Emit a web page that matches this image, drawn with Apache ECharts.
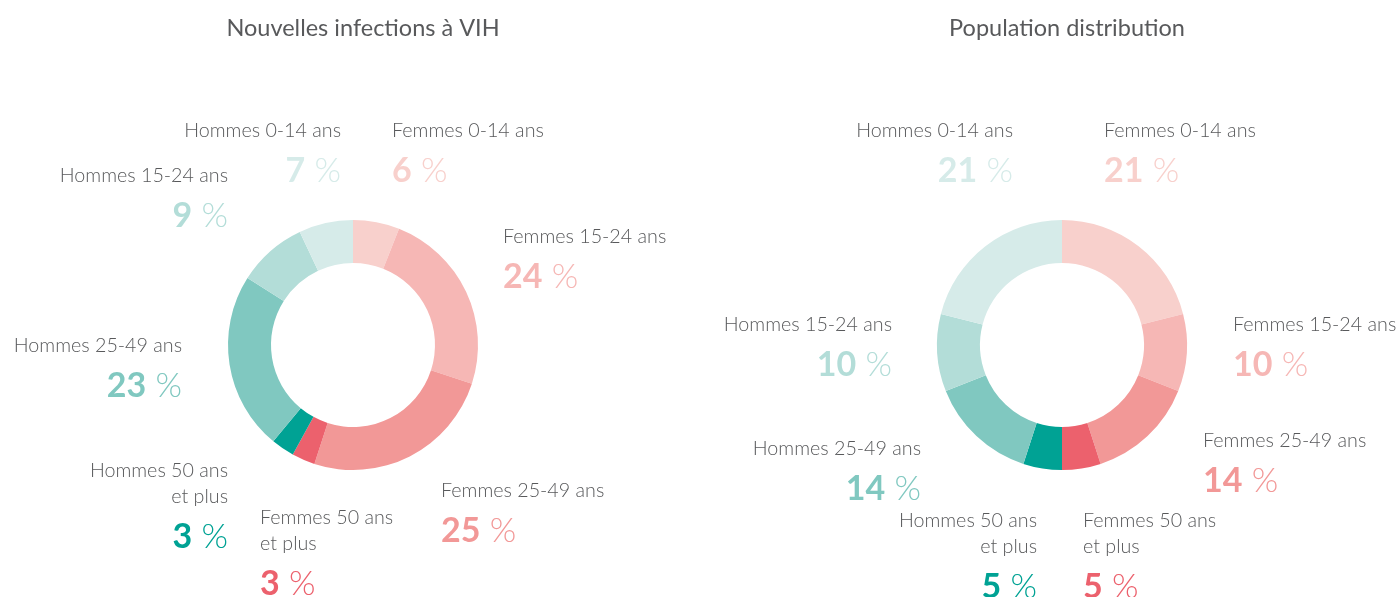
<html>
<head>
<meta charset="utf-8">
<title>Nouvelles infections à VIH</title>
<script src="https://cdn.jsdelivr.net/npm/echarts@6/dist/echarts.min.js"></script>
<style>
  body { margin: 0; background: #fff; }
  #main { width: 1400px; height: 597px; }
</style>
</head>
<body>
<div id="main"></div>
<script>
// categories, clockwise from top
var categories = ['Femmes 0-14 ans', 'Femmes 15-24 ans', 'Femmes 25-49 ans', 'Femmes 50 ans\net plus',
                  'Hommes 50 ans\net plus', 'Hommes 25-49 ans', 'Hommes 15-24 ans', 'Hommes 0-14 ans'];
var infections = [6, 24, 25, 3, 3, 23, 9, 7];
var population = [21, 10, 14, 5, 5, 14, 10, 21];
var titles = ['Nouvelles infections à VIH', 'Population distribution'];
var colors = ['#f8d0cc', '#f6b7b5', '#f29897', '#ec616d', '#00a294', '#80c8c0', '#b3ddd8', '#d6ebe9'];

// label anchor points [x, top y, align] per slice
var labelPosLeft = [[392, 118, 'left'], [503, 224, 'left'], [441, 478, 'left'], [260, 505, 'left'],
                    [228, 458, 'right'], [182, 333, 'right'], [228, 163, 'right'], [341, 118, 'right']];
var labelPosRight = [[1104, 118, 'left'], [1233, 312, 'left'], [1203, 428, 'left'], [1083, 508, 'left'],
                     [1037, 508, 'right'], [921, 436, 'right'], [892, 312, 'right'], [1013, 118, 'right']];

var FONT = 'Lato';
var rich = { name: { fontFamily: FONT, fontSize: 19.7, fontWeight: 300, color: '#58595b', lineHeight: 26 } };
colors.forEach(function (c, i) {
  rich['v' + i] = { fontFamily: FONT, fontSize: 34, fontWeight: 700, color: c, lineHeight: 54 };
  rich['p' + i] = { fontFamily: FONT, fontSize: 34, fontWeight: 300, color: c, lineHeight: 54 };
});

function makeSeries(values, cx, pos) {
  return {
    type: 'pie',
    center: [cx, 345],
    radius: [82, 125],
    startAngle: 90,
    clockwise: true,
    silent: true,
    data: categories.map(function (n, i) {
      return { name: n, value: values[i], itemStyle: { color: colors[i] } };
    }),
    label: {
      show: true,
      position: 'outside',
      overflow: 'none',
      formatter: function (p) {
        var i = p.dataIndex;
        return '{name|' + p.name + '}\n{v' + i + '|' + p.value + '}{p' + i + '| %}';
      },
      rich: rich
    },
    labelLine: { show: false },
    labelLayout: function (p) {
      var q = pos[p.dataIndex];
      return { x: q[0], y: q[1], align: q[2], verticalAlign: 'top', hideOverlap: false, moveOverlap: null };
    }
  };
}

var myChart = echarts.init(document.getElementById('main'));
var option = {
  animation: false,
  title: [
    { text: titles[0], left: 358, top: 11, textAlign: 'center',
      textStyle: { fontFamily: FONT, fontSize: 23.5, fontWeight: 400, color: '#58595b' } },
    { text: titles[1], left: 1062, top: 11, textAlign: 'center',
      textStyle: { fontFamily: FONT, fontSize: 23.5, fontWeight: 400, color: '#58595b' } }
  ],
  series: [
    makeSeries(infections, 353, labelPosLeft),
    makeSeries(population, 1062, labelPosRight)
  ]
};
myChart.setOption(option);
</script>
</body>
</html>
